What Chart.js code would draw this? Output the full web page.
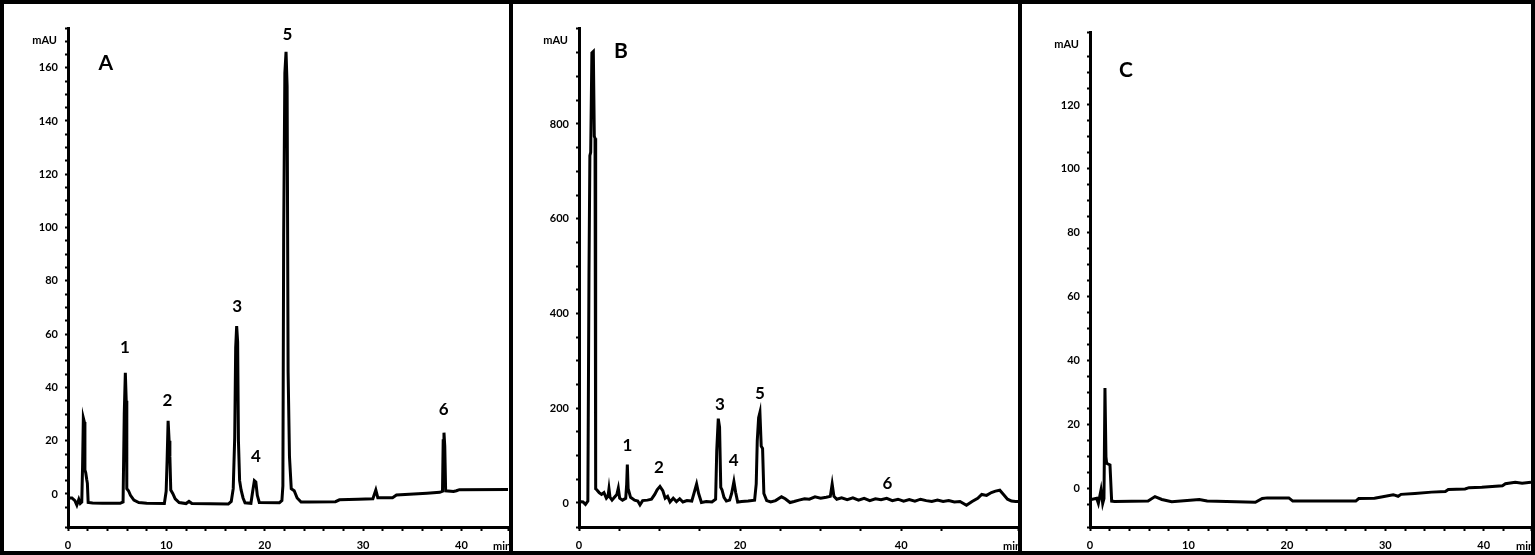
<!DOCTYPE html>
<html>
<head>
<meta charset="utf-8">
<script src="https://cdn.jsdelivr.net/npm/chart.js@4.4.1/dist/chart.umd.min.js"></script>
<style>
html, body { margin: 0; padding: 0; background: #fff; }
body { width: 1535px; height: 555px; position: relative; overflow: hidden; }
.panel { position: absolute; top: 0; height: 555px; border: 4px solid #000; box-sizing: border-box; background: #fff; overflow: hidden; }
.panel canvas { display: block; }
</style>
</head>
<body>
<div class="panel" style="left:0;width:513px"><canvas id="cA" width="505" height="547"></canvas></div>
<div class="panel" style="left:509px;width:513px"><canvas id="cB" width="505" height="547"></canvas></div>
<div class="panel" style="left:1018px;width:517px"><canvas id="cC" width="509" height="547"></canvas></div>
<script>
// chromatogram A (standards)
var timeA = [0, 0.4, 0.7, 0.9, 1.1, 1.25, 1.4, 1.48, 1.56, 1.66, 1.72, 1.8, 1.9, 1.97, 2.05, 2.5, 3.5, 5.3, 5.6, 5.72, 5.83, 5.92, 5.98, 6.15, 6.35, 6.7, 7.2, 8.0, 9.8, 9.98, 10.08, 10.18, 10.28, 10.36, 10.45, 10.65, 10.9, 11.3, 12.0, 12.3, 12.6, 16.3, 16.6, 16.8, 16.95, 17.05, 17.15, 17.25, 17.33, 17.45, 17.6, 17.8, 18.0, 18.6, 18.78, 18.95, 19.1, 19.25, 19.45, 21.5, 21.75, 21.85, 21.93, 22.05, 22.17, 22.28, 22.38, 22.52, 22.7, 23.0, 23.3, 23.7, 24.5, 27.2, 27.6, 29.5, 31.0, 31.3, 31.5, 33.0, 33.4, 36.5, 37.8, 38.08, 38.15, 38.23, 38.31, 38.4, 39.2, 39.5, 39.8, 44.8];
var absA  = [-1.5, -1.5, -2.5, -4.2, -2.0, -3.5, -3.0, 10, 28.5, 27, 9, 8, 5.5, 4, -3.2, -3.4, -3.5, -3.5, -3.0, 30, 45.5, 35, 2, 1.2, -0.5, -2.3, -3.2, -3.5, -3.6, 1, 13, 27.5, 20, 14, 1.5, 0.2, -1.8, -3.2, -3.6, -2.8, -3.6, -3.8, -2.8, 2, 21, 55, 63, 57, 20, 5, 1.5, -1.5, -3.3, -3.5, 1, 5, 4.5, -0.5, -3.2, -3.3, -2.5, 3, 97, 158, 166, 153, 46, 14, 2, 1.2, -1.5, -3.0, -3.0, -2.9, -2.2, -2.0, -1.8, 1.5, -1.4, -1.4, -0.4, 0.3, 0.6, 1, 20, 23, 18, 1.2, 0.9, 1.2, 1.6, 1.7];

// chromatogram B (sample)
var timeB = [0, 0.5, 0.8, 1.1, 1.24, 1.35, 1.45, 1.6, 1.78, 1.9, 1.99, 2.07, 2.2, 2.5, 2.8, 3.1, 3.4, 3.6, 3.72, 3.85, 4.1, 4.4, 4.7, 4.88, 5.05, 5.4, 5.8, 5.92, 6.0, 6.1, 6.4, 6.9, 7.3, 7.57, 7.9, 8.5, 9.0, 9.4, 9.7, 10.05, 10.4, 10.7, 11.0, 11.3, 11.7, 12.1, 12.5, 12.9, 13.4, 14.0, 14.35, 14.6, 14.85, 15.2, 15.8, 16.5, 16.96, 17.1, 17.29, 17.45, 17.6, 17.75, 18.0, 18.3, 18.7, 18.95, 19.23, 19.45, 19.7, 20.2, 21.0, 21.8, 22.0, 22.13, 22.3, 22.46, 22.62, 22.79, 22.95, 23.3, 23.8, 24.4, 25.14, 25.6, 26.2, 26.7, 27.3, 28.0, 28.6, 29.3, 30.0, 30.7, 31.2, 31.43, 31.65, 32.0, 32.6, 33.3, 34.0, 34.7, 35.4, 36.1, 36.8, 37.5, 38.2, 38.9, 39.6, 40.3, 41.0, 41.7, 42.4, 43.1, 43.8, 44.5, 45.2, 45.9, 46.6, 47.3, 48.1, 48.8, 49.5, 50.0, 50.6, 51.2, 51.7, 52.24, 52.7, 53.2, 53.69, 54.2, 54.7];
var absB  = [3, 2, -3, 4, 486, 733, 740, 950, 953, 774, 770, 30, 28, 22, 18, 22, 10, 14, 30, 12, 6, 12, 18, 31, 10, 6, 10, 40, 81, 30, 12, 6, 4, -4, 5, 6, 8, 18, 28, 35, 26, 10, 14, 2, 10, 3, 9, 2, 5, 4, 25, 40, 20, 1, 3, 2, 8, 110, 178, 160, 33, 28, 12, 4, 6, 20, 45, 22, 2, 3, 4, 6, 40, 131, 180, 191, 120, 115, 20, 5, 2, 5, 13, 9, 1, 3, 6, 9, 8, 13, 10, 12, 14, 40, 14, 8, 11, 7, 11, 6, 10, 5, 9, 7, 10, 5, 8, 4, 7, 4, 8, 5, 3, 6, 3, 5, 2, 3, -5, 3, 10, 18, 16, 22, 25, 27, 18, 8, 4, 3, 3];

// chromatogram C (blank)
var timeC = [0, 0.68, 0.85, 1.12, 1.29, 1.42, 1.52, 1.62, 1.69, 2.03, 2.2, 2.5, 5.9, 6.6, 7.3, 8.3, 11.1, 11.9, 16.8, 17.5, 18.0, 20.2, 20.6, 27.0, 27.3, 28.9, 29.6, 30.8, 31.3, 31.6, 33.0, 34.7, 36.1, 36.4, 38.1, 38.5, 39.8, 41.9, 42.2, 43.2, 43.9, 44.8];
var absC  = [-3.4, -2.9, -4.5, -0.3, -4.5, -3.0, 31.5, 10, 8, 7.5, -3.8, -3.9, -3.8, -2.4, -3.3, -4.0, -3.3, -3.8, -4.2, -3.0, -2.8, -2.8, -3.8, -3.8, -3.0, -2.9, -2.5, -1.8, -2.3, -1.7, -1.4, -1.0, -0.8, -0.2, 0, 0.4, 0.5, 1.0, 1.6, 2.1, 1.8, 2.1];

// peak numbers and where they sit (min, mAU)
var peakNames = ['1', '2', '3', '4', '5', '6'];
var peakLabelTimeA = [5.8, 10.1, 17.2, 19.1, 22.3, 38.2];
var peakLabelAbsA  = [54.8, 34.9, 70.5, 14, 172.4, 31.6];
var peakLabelTimeB = [6.0, 9.93, 17.5, 19.2, 22.45, 38.3];
var peakLabelAbsB  = [121.8, 73.9, 208.5, 88.9, 230.9, 41.8];

var tickFont = { family: 'Lato', weight: 'bold', size: 11 };

function isMajor(v, step) {
    var r = Math.abs(v % step);
    return r < 1e-6 || Math.abs(r - step) < 1e-6;
}

function panelText(cfg) {
    return {
        id: 'panelText',
        afterDatasetsDraw: function (chart) {
            var ctx = chart.ctx, area = chart.chartArea;
            var x = chart.scales.x, y = chart.scales.y;
            ctx.save();
            ctx.fillStyle = '#000';
            ctx.textAlign = 'center';
            ctx.textBaseline = 'middle';
            ctx.font = 'bold 21px Lato';
            ctx.fillText(cfg.letter, x.getPixelForValue(cfg.letterAt[0]), y.getPixelForValue(cfg.letterAt[1]));
            ctx.font = 'bold 17px Lato';
            for (var i = 0; i < cfg.labelTime.length; i++) {
                ctx.fillText(peakNames[i], x.getPixelForValue(cfg.labelTime[i]), y.getPixelForValue(cfg.labelAbs[i]));
            }
            ctx.font = 'bold 11px Lato';
            ctx.textAlign = 'right';
            ctx.fillText('mAU', y.right - 11, area.top + 12);
            ctx.textAlign = 'left';
            ctx.fillText('min', area.right - 15, area.bottom + 19);
            ctx.restore();
        }
    };
}

function makeChromatogram(id, cfg) {
    var pts = cfg.time.map(function (t, i) { return { x: t, y: cfg.abs[i] }; });
    return new Chart(document.getElementById(id), {
        type: 'line',
        data: { datasets: [{ data: pts, borderColor: '#000', borderWidth: 3, pointRadius: 0, tension: 0, fill: false }] },
        options: {
            responsive: false,
            animation: false,
            events: [],
            layout: { padding: { left: 0, right: cfg.padRight, top: cfg.padTop, bottom: 0 } },
            plugins: { legend: { display: false }, tooltip: { enabled: false } },
            scales: {
                x: {
                    type: 'linear', min: 0, max: cfg.xMax,
                    afterFit: function (s) { s.height = 24; s.paddingRight = 0; s.paddingLeft = 0; },
                    border: { display: true, color: '#000', width: 3 },
                    grid: { display: true, drawOnChartArea: false, drawTicks: true, tickLength: 4, tickWidth: 2, tickColor: '#000' },
                    ticks: {
                        stepSize: cfg.xMinor, autoSkip: false, maxRotation: 0, padding: 8,
                        color: '#000', font: tickFont,
                        callback: function (v) { return (v >= 0 && v <= cfg.xMax - 1 && isMajor(v, cfg.xMajor)) ? String(v) : ''; }
                    }
                },
                y: {
                    type: 'linear', min: cfg.yMin, max: cfg.yMax,
                    afterFit: function (s) { s.width = cfg.axisLeft; s.paddingTop = 0; s.paddingBottom = 0; },
                    border: { display: true, color: '#000', width: 3 },
                    grid: { display: true, drawOnChartArea: false, drawTicks: true, tickLength: 3, tickWidth: 2, tickColor: '#000' },
                    ticks: {
                        stepSize: cfg.yMinor, autoSkip: false, padding: 7,
                        color: '#000', font: tickFont,
                        callback: function (v) { return (v >= 0 && v <= cfg.yLabelMax && isMajor(v, cfg.yMajor)) ? String(v) : ''; }
                    }
                }
            }
        },
        plugins: [panelText(cfg)]
    });
}

makeChromatogram('cA', {
    time: timeA, abs: absA, xMax: 44.74, xMinor: 2, xMajor: 10,
    yMin: -12.4, yMax: 174.9, yMinor: 5, yMajor: 20, yLabelMax: 160,
    axisLeft: 64, padRight: 1, padTop: 24,
    letter: 'A', letterAt: [3.85, 161.8],
    labelTime: peakLabelTimeA, labelAbs: peakLabelAbsA
});

makeChromatogram('cB', {
    time: timeB, abs: absB, xMax: 54.5, xMinor: 5, xMajor: 20,
    yMin: -50.7, yMax: 1002.6, yMinor: 50, yMajor: 200, yLabelMax: 800,
    axisLeft: 66, padRight: 0, padTop: 24,
    letter: 'B', letterAt: [5.2, 953],
    labelTime: peakLabelTimeB, labelAbs: peakLabelAbsB
});

makeChromatogram('cC', {
    time: timeC, abs: absC, xMax: 44.8, xMinor: 2, xMajor: 10,
    yMin: -11.9, yMax: 142.8, yMinor: 5, yMajor: 20, yLabelMax: 120,
    axisLeft: 68, padRight: 0, padTop: 28,
    letter: 'C', letterAt: [3.65, 131],
    labelTime: [], labelAbs: []
});
</script>
</body>
</html>
